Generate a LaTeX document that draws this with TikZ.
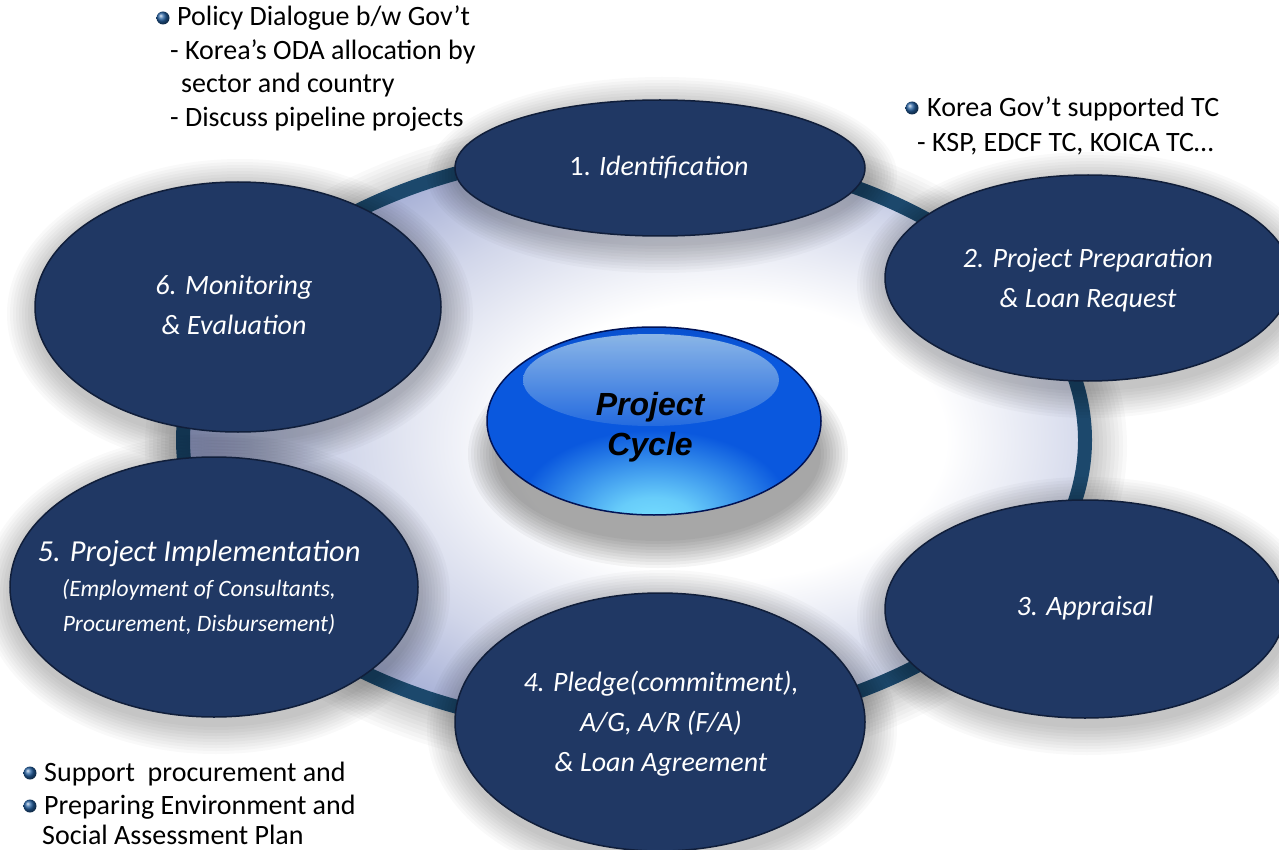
\documentclass[tikz,border=0pt]{standalone}
\usepackage{fontspec}
\setmainfont{Carlito}
\newfontfamily\arialfont{Liberation Sans}
\usetikzlibrary{shapes.geometric}
\definecolor{navy}{RGB}{32,56,100}
\definecolor{navyedge}{RGB}{16,30,58}
\definecolor{ringcol}{RGB}{28,72,108}
\definecolor{lav}{RGB}{124,138,194}
\definecolor{btnD}{RGB}{0,18,85}
\definecolor{btnM}{RGB}{10,88,222}
\definecolor{btnC}{RGB}{120,225,255}
\definecolor{hiT}{RGB}{150,190,232}
\definecolor{bulcol}{RGB}{35,95,160}
\pgfdeclareradialshading{ringfill}{\pgfpoint{6bp}{0bp}}{color(0bp)=(white); color(12bp)=(white); color(21bp)=(lav!35!white); color(29bp)=(lav!75!white); color(37bp)=(lav); color(100bp)=(lav)}
\pgfdeclareradialshading{btnshade}{\pgfpoint{0bp}{-28bp}}{color(0bp)=(btnC); color(6bp)=(btnC!85!btnM); color(20bp)=(btnM); color(38bp)=(btnM); color(52bp)=(btnM!50!btnD); color(62bp)=(btnD); color(100bp)=(btnD)}
\newcommand\myhalo[4]{\foreach \k [evaluate=\k as \ra using #3+3*\k, evaluate=\k as \rb using #4+3*\k] in {1,...,10}{\fill[black,fill opacity=0.025] (#1+2,#2+7) ellipse [x radius=\ra, y radius=\rb];}}
\tikzset{
  stage/.style={ellipse, inner sep=0pt, fill=navy, draw=navyedge, line width=1.5pt},
  lab/.style={text=white, align=center, inner sep=0pt, font=\itshape\fontsize{28}{40}\selectfont},
  note/.style={anchor=base west, inner sep=0pt, text=black, font=\fontsize{28}{33}\selectfont},
  bul/.style={circle, minimum size=13pt, inner sep=0pt, ball color=bulcol},
}
\begin{document}
\begin{tikzpicture}[x=1pt,y=-1pt]
\useasboundingbox (0,0) rectangle (1279,850);
\fill[white] (0,0) rectangle (1279,850);
% glow around ring
\foreach \k [evaluate=\k as \ra using 451+4*\k, evaluate=\k as \rb using 290+4*\k] in {1,...,10}{\fill[black,fill opacity=0.024] (636,446) ellipse [x radius=\ra, y radius=\rb];}
% ring
\node[ellipse, inner sep=0pt, minimum width=902pt, minimum height=580pt, shade, shading=ringfill, draw=ringcol, line width=14pt] (ring) at (634,440) {};
% stage halos
\myhalo{660}{168}{205}{68}
\myhalo{1088}{278}{203}{103}
\myhalo{1085}{609}{200}{109}
\myhalo{660}{722}{205}{129}
\myhalo{214}{587}{204}{130}
\myhalo{238}{307}{203}{125}
% stages
\node[stage, minimum width=410pt, minimum height=136pt] (s1) at (660,168) {};
\node[stage, minimum width=406pt, minimum height=206pt] (s2) at (1088,278) {};
\node[stage, minimum width=400pt, minimum height=218pt] (s3) at (1085,609) {};
\node[stage, minimum width=410pt, minimum height=258pt] (s4) at (660,722) {};
\node[stage, minimum width=408pt, minimum height=260pt] (s5) at (214,587) {};
\node[stage, minimum width=406pt, minimum height=250pt] (s6) at (238,307) {};
\node[lab] (l1) at (659,167) {{\upshape 1.} Identification};
\node[lab] (l2) at (1088,280) {2. Project Preparation\\\& Loan Request};
\node[lab] (l3) at (1085,608) {3. Appraisal};
\node[lab] (l4) at (661,724) {4. Pledge(commitment),\\A/G, A/R (F/A)\\\& Loan Agreement};
\node[lab, font=\itshape\fontsize{30.5}{35}\selectfont] (l5) at (199,588) {5. Project Implementation\\\fontsize{23.5}{33}\selectfont (Employment of Consultants,\\\fontsize{23.5}{33}\selectfont Procurement, Disbursement)};
\node[lab] (l6) at (234,305) {6. Monitoring\\\& Evaluation};
% centre button
\foreach \k [evaluate=\k as \ra using 160+3*\k, evaluate=\k as \rb using 84+3*\k] in {1,...,10}{\fill[black,fill opacity=0.04] (658,454) ellipse [x radius=\ra, y radius=\rb];}
\node[ellipse, inner sep=0pt, minimum width=334pt, minimum height=188pt, shade, shading=btnshade, draw=btnD, line width=1.5pt] (btn) at (654,421) {};
\shade[top color=hiT, bottom color=btnM!80!hiT, fill opacity=0.92] (651,380) ellipse [x radius=128, y radius=46];
\node[align=center, inner sep=0pt, text=black, font=\arialfont\fontsize{32}{40}\selectfont\bfseries\itshape] (pc) at (650,427) {Project\\Cycle};
% notes
\node[bul] (d1) at (163,18) {};
\node[note] (n1) at (177,26) {Policy Dialogue b/w Gov’t};
\node[note] (n2) at (170,60) {- Korea’s ODA allocation by};
\node[note] (n3) at (181,93) {sector and country};
\node[note] (n4) at (170,127) {- Discuss pipeline projects};
\node[bul] (d2) at (912,108) {};
\node[note] (n5) at (927,117) {Korea Gov’t supported TC};
\node[note] (n6) at (917,152) {- KSP, EDCF TC, KOICA TC…};
\node[bul] (d3) at (30,773) {};
\node[note] (n7) at (44,781) {Support\ \ procurement and};
\node[bul] (d4) at (30,806) {};
\node[note] (n8) at (44,814) {Preparing Environment and};
\node[note] (n9) at (42,844) {Social Assessment Plan};
\end{tikzpicture}
\end{document}
